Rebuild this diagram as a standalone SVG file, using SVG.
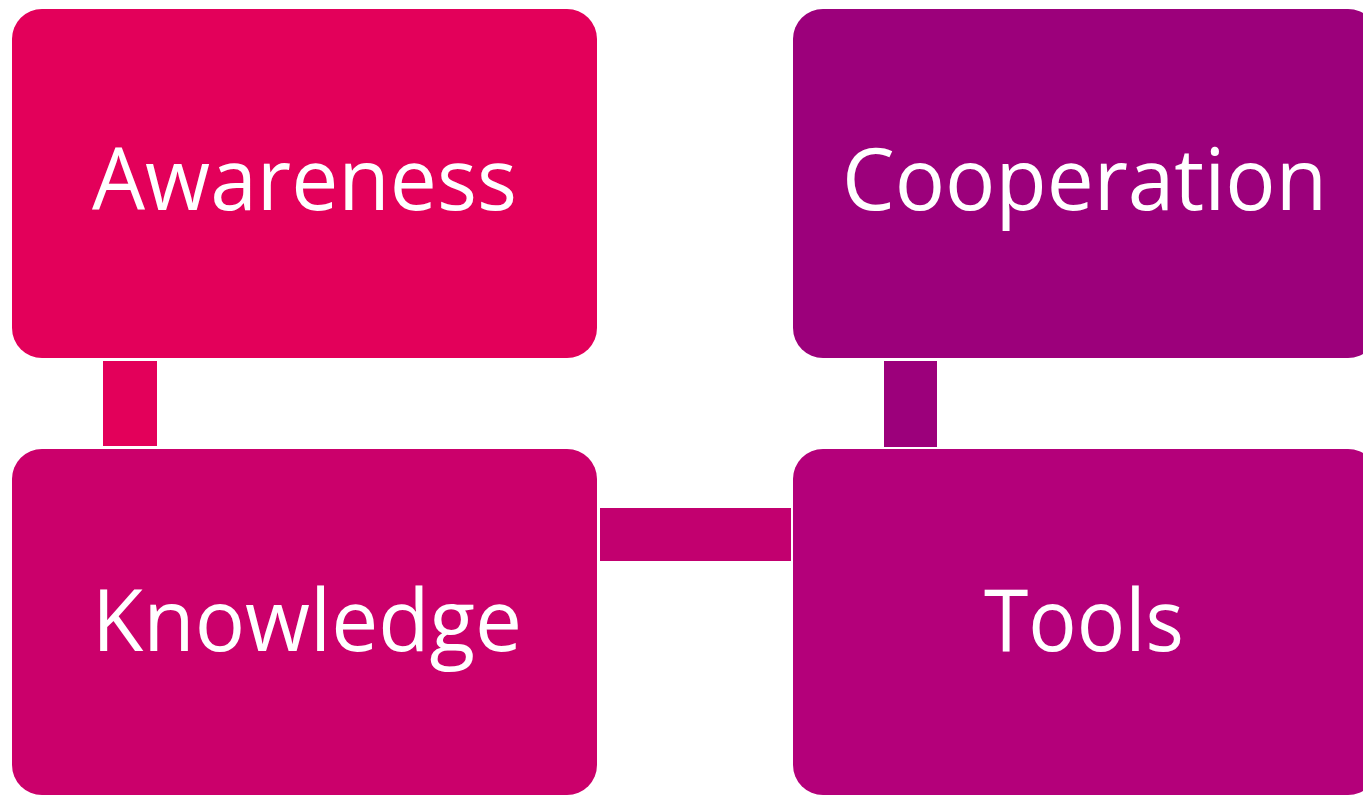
<svg xmlns="http://www.w3.org/2000/svg" width="1363" height="796" viewBox="0 0 1363 796">
<style>
.lbl{font-family:"Open Sans","Noto Sans","Liberation Sans",sans-serif;font-size:86px;fill:#ffffff}
</style>
<rect x="0" y="0" width="1363" height="796" fill="#ffffff"/>
<g id="connectors">
<rect x="103" y="361" width="54" height="85" fill="#E3005A"/>
<rect x="600" y="508" width="191" height="53" fill="#C2006F"/>
<rect x="884" y="361" width="53" height="86" fill="#9C007B"/>
</g>
<g id="awareness">
<rect x="12" y="9" width="585" height="349" rx="30" ry="30" fill="#E3005A"/>
<text class="lbl" x="92" y="210" textLength="425" lengthAdjust="spacingAndGlyphs">Awareness</text>
</g>
<g id="cooperation">
<rect x="793" y="9" width="585" height="349" rx="30" ry="30" fill="#9C007B"/>
<text class="lbl" x="842" y="210" textLength="485" lengthAdjust="spacingAndGlyphs">Cooperation</text>
</g>
<g id="knowledge">
<rect x="12" y="449" width="585" height="346" rx="30" ry="30" fill="#CB006B"/>
<text class="lbl" x="92" y="651" textLength="430" lengthAdjust="spacingAndGlyphs">Knowledge</text>
</g>
<g id="tools">
<rect x="793" y="449" width="585" height="346" rx="30" ry="30" fill="#B4007A"/>
<text class="lbl" x="984" y="651" textLength="200" lengthAdjust="spacingAndGlyphs">Tools</text>
</g>
</svg>
